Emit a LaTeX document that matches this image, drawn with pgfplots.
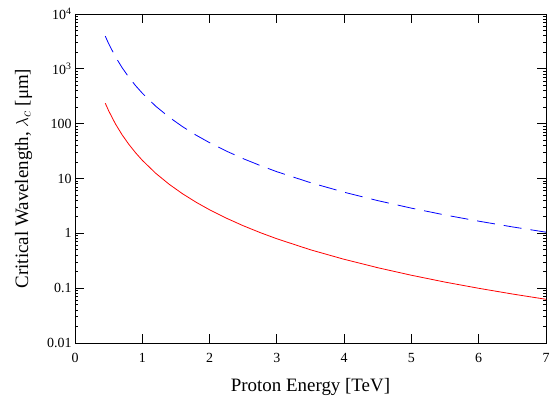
\documentclass[border=0pt]{standalone}
\usepackage{pgfplots}
\pgfplotsset{compat=1.18}
\usepackage{fontspec}
\setmainfont{Liberation Serif}
\begin{document}
\begin{tikzpicture}
\begin{axis}[
  scale only axis, width=471bp, height=329bp,
  xmin=0, xmax=7, ymode=log, ymin=0.01, ymax=10000,
  xtick={0,1,2,3,4,5,6,7},
  ytick={0.01,0.1,1,10,100,1000,10000},
  yticklabels={0.01,0.1,1,10,100,10\textsuperscript{3},10\textsuperscript{4}},
  minor tick num=0, minor ytick={},
  tick align=inside, major tick length=9bp,
  tick style={black, line width=0.8pt},
  axis line style={black, line width=0.8pt},
  /pgf/number format/assume math mode=true,
  ticklabel style={font=\fontsize{14}{15}\selectfont},
  xticklabel style={yshift=-7bp},
  yticklabel style={xshift=0bp},
  xlabel={Proton Energy [TeV]},
  ylabel={Critical Wavelength, $\lambda_c$ [μm]},
  label style={font=\fontsize{19}{20}\selectfont},
  xlabel style={yshift=-9bp},
  ylabel style={yshift=8bp},
]
\addplot[red, line width=0.8pt] coordinates {
(0.45,235.9) (0.5,172) (0.6,99.5) (0.7,62.7) (0.8,42.0) (0.9,29.5) (1.0,21.5)
(1.2,12.44) (1.4,7.84) (1.6,5.25) (1.8,3.69) (2.0,2.69) (2.25,1.89) (2.5,1.376)
(2.75,1.034) (3.0,0.796) (3.5,0.501) (4.0,0.336) (4.5,0.236) (5.0,0.172)
(5.5,0.129) (6.0,0.0995) (6.5,0.0783) (7.0,0.0627)};
\addplot[blue, line width=0.8pt, dash pattern=on 18bp off 9bp] coordinates {
(0.45,3951) (0.5,2880) (0.6,1667) (0.7,1050) (0.8,703) (0.9,494) (1.0,360)
(1.2,208) (1.4,131) (1.6,87.9) (1.8,61.7) (2.0,45) (2.25,31.6) (2.5,23.0)
(2.75,17.3) (3.0,13.3) (3.5,8.40) (4.0,5.625) (4.5,3.95) (5.0,2.88)
(5.5,2.16) (6.0,1.667) (6.5,1.311) (7.0,1.050)};
\end{axis}
\pgfresetboundingbox
\path (current axis.south west) ++(-75bp,-64bp) coordinate (bl);
\path (current axis.north east) ++(5bp,14bp) coordinate (tr);
\path[use as bounding box] (bl) rectangle (tr);
\end{tikzpicture}
\end{document}
